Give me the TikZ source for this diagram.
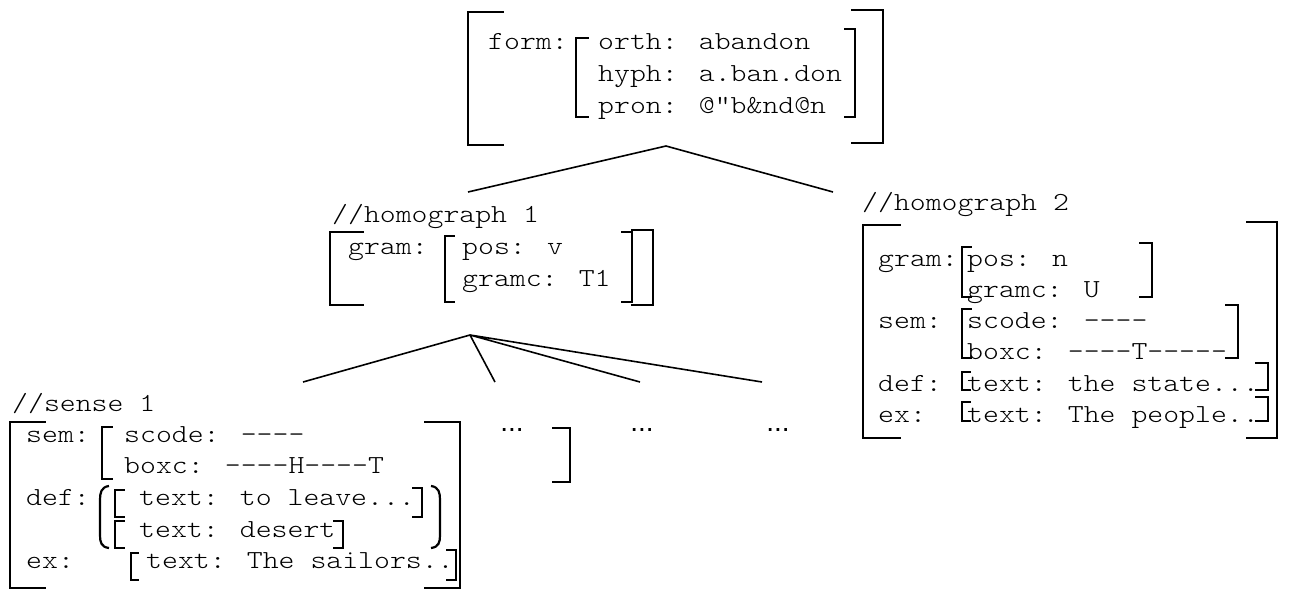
\documentclass[tikz,border=0pt]{standalone}
\usepackage{fontspec}
\newfontfamily\monofont[FakeStretch=1.165]{lmmonolt10-regular.otf}
\newfontfamily\dotsfont{Liberation Sans}
\usetikzlibrary{positioning}
% brackets: x, top y, bottom y, tick length
\newcommand\lbrk[4]{\draw[brk] (#1+#4,#2)--(#1,#2)--(#1,#3)--(#1+#4,#3);}
\newcommand\rbrk[4]{\draw[brk] (#1-#4,#2)--(#1,#2)--(#1,#3)--(#1-#4,#3);}
\tikzset{
  txt/.style={font=\monofont\fontsize{26}{32}\selectfont, anchor=base west, inner sep=0pt},
  dts/.style={font=\dotsfont\fontsize{28}{32}\selectfont, anchor=base, inner sep=0pt},
  brk/.style={line width=2.2pt, line cap=rect},
  edge/.style={line width=1.6pt}
}
\begin{document}
\begin{tikzpicture}[x=1pt,y=-1pt,line join=miter]
\useasboundingbox (0,0) rectangle (1294,592);
%==form
\lbrk{468}{12}{145}{35}
\rbrk{883}{10}{143}{31}
\node[txt] (form) at (488,49) {form:};
\lbrk{576}{38}{117}{12}
\rbrk{855}{29}{117}{10}
\node[txt] (orth) at (598,49) {orth: abandon};
\node[txt] (hyph) at (598,81) {hyph: a.ban.don};
\node[txt] (pron) at (598,113) {pron: @"b\&nd@n};
\path (666,146)coordinate(topapex)
  (468,192)coordinate(hA) (833,192)coordinate(hB);
\draw[edge] (hA)--(topapex)--(hB);
%==homograph 1
\node[txt] (hAlbl) at (332,222) {//homograph 1};
\lbrk{330}{232}{305}{33}
\rbrk{653}{230}{305}{21}
\node[txt] (hAgram) at (348,254) {gram:};
\lbrk{445}{236}{302}{9}
\rbrk{632}{232}{302}{10}
\node[txt] (hApos) at (462,254) {pos: v};
\node[txt] (hAgramc) at (462,286) {gramc: T1};
\path (470,335)coordinate(hAapex)
  (303,382)coordinate(sA) (495,382)coordinate(sB)
  (640,382)coordinate(sC) (762,382)coordinate(sD);
\draw[edge] (sA)--(hAapex)--(sB) (hAapex)--(sC) (hAapex)--(sD);
%==homograph 2
\node[txt] (hBlbl) at (862,210) {//homograph 2};
\lbrk{863}{225}{438}{37}
\rbrk{1277}{222}{438}{30}
\node[txt] (hBgram) at (878,266) {gram:};
\node[txt] (hBsem) at (878,328) {sem:};
\node[txt] (hBdef) at (878,391) {def:};
\node[txt] (hBex) at (878,422) {ex:};
\lbrk{962}{247}{297}{9}
\rbrk{1152}{243}{297}{12}
\node[txt] (hBpos) at (967,266) {pos: n};
\node[txt] (hBgramc) at (967,297) {gramc: U};
\lbrk{962}{309}{358}{9}
\rbrk{1238}{305}{358}{12}
\node[txt] (hBscode) at (967,328) {scode: ----};
\node[txt] (hBboxc) at (967,359) {boxc: ----T-----};
\lbrk{962}{372}{390}{8}
\rbrk{1268}{363}{390}{12}
\node[txt] (hBdeftxt) at (967,391) {text: the state...};
\lbrk{962}{402}{421}{8}
\rbrk{1268}{397}{421}{12}
\node[txt] (hBextxt) at (967,422) {text: The people..};
%==sense 1
\node[txt] (sAlbl) at (12,411) {//sense 1};
\lbrk{10}{422}{588}{35}
\rbrk{460}{422}{588}{35}
\node[txt] (sAsem) at (26,442) {sem:};
\node[txt] (sAdef) at (26,505) {def:};
\node[txt] (sAex) at (26,568) {ex:};
\lbrk{102}{427}{479}{10}
\node[txt] (sAscode) at (124,442) {scode: ----};
\node[txt] (sAboxc) at (124,473) {boxc: ----H----T};
\draw[brk,line cap=butt] (109,486) .. controls (101,487) and (100,493) .. (100,500)
  -- (100,535) .. controls (100,542) and (101,547) .. (109,548);
\draw[brk,line cap=butt] (431,486) .. controls (439,487) and (440,493) .. (440,500)
  -- (440,535) .. controls (440,542) and (439,547) .. (431,548);
\lbrk{115}{490}{517}{9}
\rbrk{422}{488}{517}{9}
\node[txt] (sAdefa) at (139,505) {text: to leave...};
\lbrk{115}{521}{548}{9}
\rbrk{343}{521}{548}{9}
\node[txt] (sAdefb) at (139,537) {text: desert};
\lbrk{131}{553}{580}{7}
\rbrk{456}{550}{580}{9}
\node[txt] (sAextxt) at (146,568) {text: The sailors..};
%==other senses
\node[dts] (sBdots) at (512,431) {...};
\node[dts] (sCdots) at (642,431) {...};
\node[dts] (sDdots) at (778,431) {...};
\rbrk{570}{428}{482}{17}
\end{tikzpicture}
\end{document}
